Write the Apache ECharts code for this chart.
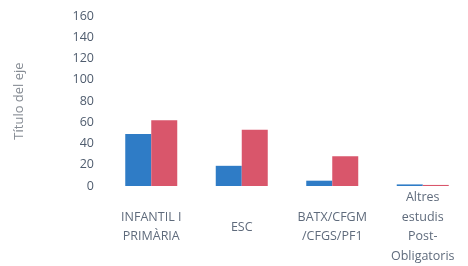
<!DOCTYPE html>
<html>
<head>
<meta charset="utf-8">
<script src="https://cdn.jsdelivr.net/npm/echarts@6/dist/echarts.min.js"></script>
<style>
  html, body { margin: 0; padding: 0; background: #fff; }
  #chart { width: 468px; height: 266px; }
</style>
</head>
<body>
<div id="chart"></div>
<script>
const categories = ['INFANTIL I\nPRIMÀRIA', 'ESC', 'BATX/CFGM\n/CFGS/PF1', 'Altres\nestudis\nPost-\nObligatoris'];
const seriesA = [49, 19, 5, 1.5];
const seriesB = [62, 53, 28, 1];
const yMax = 160;
const yStep = 20;

const myChart = echarts.init(document.getElementById('chart'));
myChart.setOption({
  animation: false,
  textStyle: { fontFamily: 'Open Sans' },
  grid: { left: 106, top: 16, height: 170, width: 373 },
  xAxis: {
    type: 'category',
    data: categories,
    axisLine: { show: false },
    axisTick: { show: false },
    axisLabel: {
      color: '#5f6b7c',
      fontSize: 12.5,
      lineHeight: 19.5,
      margin: 41,
      verticalAlign: 'middle',
      interval: 0
    }
  },
  yAxis: {
    type: 'value',
    min: 0,
    max: yMax,
    interval: yStep,
    name: 'Título del eje',
    nameLocation: 'middle',
    nameGap: 80,
    nameTextStyle: { color: '#858b93', fontSize: 13 },
    axisLine: { show: false },
    axisTick: { show: false },
    splitLine: { show: false },
    axisLabel: {
      color: '#4f5c6e',
      fontSize: 12.5,
      margin: 12,
      formatter: v => v === 0 ? '0' : String(v)
    }
  },
  series: [
    {
      type: 'bar',
      data: seriesA,
      barWidth: 26,
      barGap: '0%',
      itemStyle: { color: '#2f7cc6' }
    },
    {
      type: 'bar',
      data: seriesB,
      barWidth: 26,
      itemStyle: { color: '#d9566b' }
    }
  ]
});
</script>
</body>
</html>
